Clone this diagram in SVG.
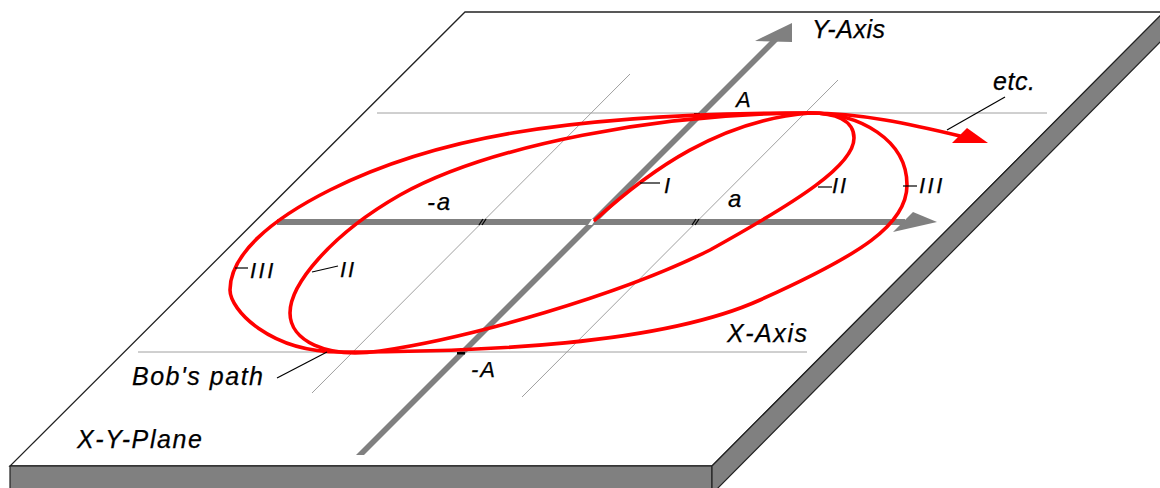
<svg xmlns="http://www.w3.org/2000/svg" width="1160" height="488" viewBox="0 0 1160 488">
<defs>
<style>
.face{fill:#ffffff;stroke:#222;stroke-width:1.3}
.side{fill:#808080;stroke:#222;stroke-width:1.2}
.grid{stroke:#a0a0a0;stroke-width:1;fill:none}
.axis{fill:#808080}
.red{fill:none;stroke:#ff0000;stroke-width:3.6;stroke-linecap:round}
.lead{stroke:#000;stroke-width:1.2;fill:none}
.t{font-family:"Liberation Sans",Arial,sans-serif;font-style:italic;fill:#000;stroke:#000;stroke-width:0.25}
.big{font-size:25px}
.mid{font-size:24px}
.sm{font-size:22px}
</style>
</defs>
<rect x="0" y="0" width="1160" height="488" fill="#ffffff"/>
<g id="plate">
<polygon class="face" points="465,12 1164,12 712,466 10,466"/>
<rect class="side" x="10" y="466" width="702" height="30"/>
<polygon class="side" points="712,466 1164,12 1164,38 712,494"/>
</g>
<g id="grid">
<line class="grid" x1="377" y1="113" x2="1047" y2="113"/>
<line class="grid" x1="138" y1="352" x2="807" y2="352"/>
<line class="grid" x1="630" y1="74" x2="312" y2="393"/>
<line class="grid" x1="838" y1="80" x2="522" y2="397"/>
</g>
<g id="axes">
<polygon class="axis" points="277,219 905,219 905,225 277,225"/>
<polygon class="axis" points="937,222 913,212 893,232"/>
<polygon class="axis" points="356,455 364,455 778,41 770,41"/>
<polygon class="axis" points="792,23 755,41 792,42"/>
<polygon fill="#ffffff" points="588,225 592,219 596,219 592,225"/>
<g stroke="#000" stroke-width="1.3">
<line x1="479" y1="225" x2="483" y2="219"/><line x1="482" y1="225" x2="486" y2="219"/>
<line x1="692" y1="225" x2="696" y2="219"/><line x1="695" y1="225" x2="699" y2="219"/>
</g>
<rect x="457" y="352" width="8" height="2.5" fill="#000"/>
<rect x="694" y="113" width="6" height="2" fill="#000"/>
</g>
<g id="connectors">
<path id="curve-I" class="red" d="M595,220 C650,170 720,120 810,113"/>
<path id="curve-II" class="red" d="M810,113 C835,113 854,120 854,138 C854,165 800,200 710,250 C620,295 470,338 380,351 C325,359 290,340 290,313 C290,285 330,235 400,195 C490,145 660,113 810,113"/>
<path id="curve-III" class="red" d="M810,113 C860,113 907,140 907,185 C907,225 860,255 760,300 C660,345 480,352 340,352 C270,352 230,310 230,290 C230,255 270,220 330,190 C430,140 560,113 810,113"/>
<path id="curve-etc" class="red" d="M810,113 C860,113 910,124 960,136"/>
<polygon fill="#ff0000" points="988,143 967,128 952,143"/>
<g id="leaders">
<line class="lead" x1="640" y1="183" x2="660" y2="183"/>
<line class="lead" x1="818" y1="187" x2="832" y2="187"/>
<line class="lead" x1="903" y1="186" x2="917" y2="186"/>
<line class="lead" x1="235" y1="268" x2="248" y2="268"/>
<line class="lead" x1="312" y1="272" x2="338" y2="266"/>
<line class="lead" x1="277" y1="378" x2="327" y2="352"/>
<line class="lead" x1="1005" y1="97" x2="947" y2="130"/>
</g>
</g>
<g id="labels">
<text class="t big" x="812" y="38" textLength="73" lengthAdjust="spacing">Y-Axis</text>
<text class="t big" x="993" y="90" textLength="42" lengthAdjust="spacing">etc.</text>
<text class="t sm" x="736" y="107">A</text>
<text class="t sm" x="471" y="377" textLength="24" lengthAdjust="spacing">-A</text>
<text class="t big" x="727" y="342" textLength="80" lengthAdjust="spacing">X-Axis</text>
<text class="t mid" x="427" y="210" textLength="23" lengthAdjust="spacing">-a</text>
<text class="t mid" x="728" y="207">a</text>
<text class="t sm" x="664" y="193">I</text>
<text class="t sm" x="832" y="193" letter-spacing="2">II</text>
<text class="t sm" x="919" y="193" letter-spacing="2.5">III</text>
<text class="t sm" x="250" y="278" letter-spacing="2.5">III</text>
<text class="t sm" x="340" y="277" letter-spacing="2">II</text>
<text class="t big" x="132" y="385" textLength="131" lengthAdjust="spacing">Bob's path</text>
<text class="t big" x="77" y="448" textLength="125" lengthAdjust="spacing">X-Y-Plane</text>
</g>
</svg>
